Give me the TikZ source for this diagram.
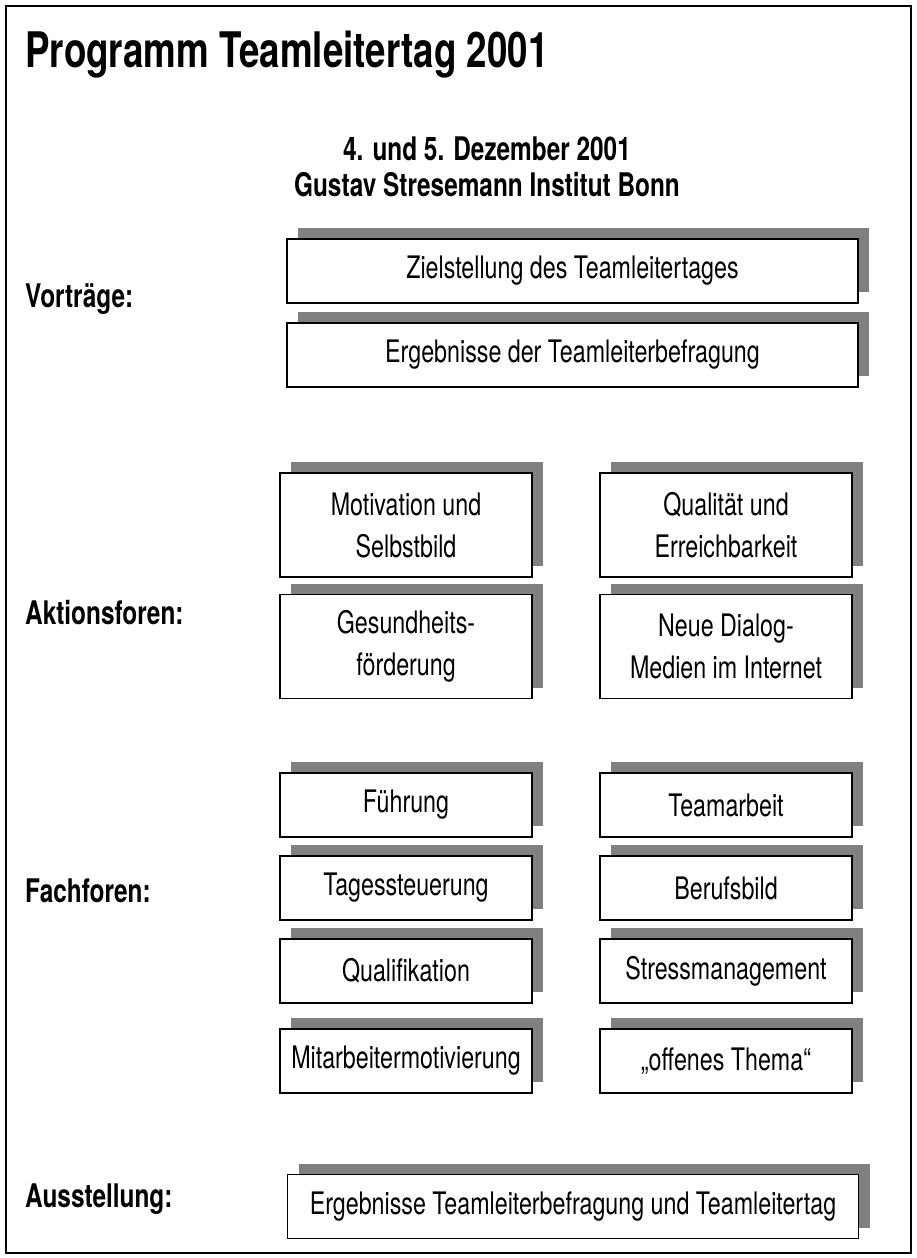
\documentclass[tikz,border=0pt]{standalone}
\usepackage{fontspec}
\setmainfont{TeX Gyre Heros}[FakeStretch=0.75]
\usetikzlibrary{shadows}
\definecolor{shadowgray}{HTML}{808080}

\begin{document}
\begin{tikzpicture}[
  x=1pt, y=-1pt,
  box/.style={draw, line width=1.8pt, fill=white, inner sep=0pt, outer sep=0pt, align=center,
    font=\fontsize{31pt}{42pt}\selectfont,
    drop shadow={shadow xshift=11pt, shadow yshift=11pt, fill=shadowgray, opacity=1}},
  widebox/.style={box, minimum width=571pt, minimum height=64pt},
  halfbox/.style={box, minimum width=252pt, minimum height=64pt},
  tallbox/.style={box, minimum width=252pt, minimum height=104pt},
  topic/.style={anchor=base west, inner sep=0pt, font=\bfseries\fontsize{32.5pt}{38pt}\selectfont}
]
\useasboundingbox (0,0) rectangle (916,1258);
\draw[line width=2pt] (6,6) rectangle (911,1253);
% title and date
\node[anchor=base west, inner sep=0pt, font=\bfseries\fontsize{49pt}{56pt}\selectfont] (title) at (25,67) {Programm Teamleitertag 2001};
\node[anchor=base, inner sep=0pt, font=\bfseries\fontsize{32.5pt}{38pt}\selectfont] (date) at (487,160) {4. und 5. Dezember 2001};
\node[anchor=base, inner sep=0pt, font=\bfseries\fontsize{32.5pt}{38pt}\selectfont] (place) at (487,196) {Gustav Stresemann Institut Bonn};
% Vortraege
\node[topic] (vortr) at (25,307) {Vorträge:};
\node[widebox] (ziel) at (572.5,271) {Zielstellung des Teamleitertages};
\node[widebox] (befr) at (572.5,355) {Ergebnisse der Teamleiterbefragung};
% Aktionsforen
\node[topic] (aktion) at (25,624) {Aktionsforen:};
\node[tallbox] (motiv) at (406,525) {Motivation und\\Selbstbild};
\node[tallbox] (quali) at (726,525) {Qualität und\\Erreichbarkeit};
\node[tallbox] (gesund) at (406,646.5) {Gesundheits-\\förderung};
\node[tallbox] (dialog) at (726,646.5) {Neue Dialog-\\Medien im Internet};
% Fachforen
\node[topic] (fach) at (25,902) {Fachforen:};
\node[halfbox] (fuehr) at (406,805) {Führung};
\node[halfbox] (team) at (726,805) {Teamarbeit};
\node[halfbox] (tages) at (406,888) {Tagessteuerung};
\node[halfbox] (beruf) at (726,888) {Berufsbild};
\node[halfbox] (qualif) at (406,971) {Qualifikation};
\node[halfbox] (stress) at (726,971) {Stressmanagement};
\node[halfbox] (mitarb) at (406,1061) {Mitarbeitermotivierung};
\node[halfbox] (offen) at (726,1061) {„offenes Thema“};
% Ausstellung
\node[topic] (ausst) at (25,1207) {Ausstellung:};
\node[widebox] (ergeb) at (573,1206.5) {Ergebnisse Teamleiterbefragung und Teamleitertag};
\end{tikzpicture}
\end{document}
